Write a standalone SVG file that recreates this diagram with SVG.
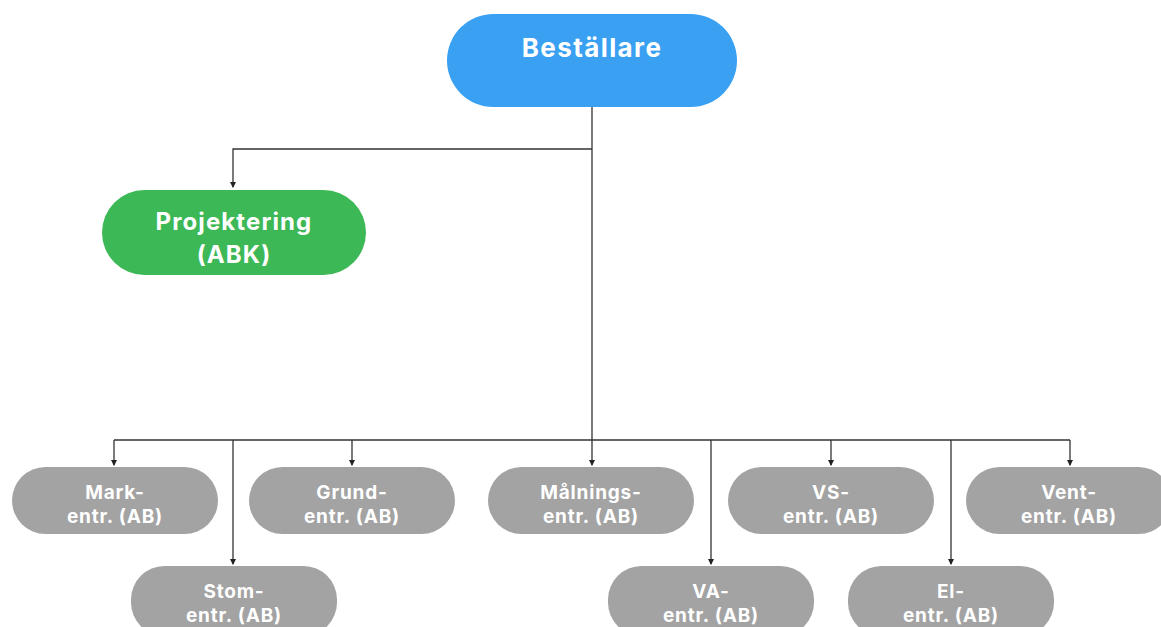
<svg xmlns="http://www.w3.org/2000/svg" width="1161" height="627" viewBox="0 0 1161 627">
  <style>
    .lbl { font-family: Inter, "Liberation Sans", sans-serif; font-weight: 700; fill: #ffffff; text-anchor: middle; }
    .sub { font-size: 19px; letter-spacing: 0.8px; }
    .gray { fill: #a3a3a3; }
    .wire { fill: none; stroke: #333333; stroke-width: 1.3; }
  </style>
  <defs>
    <marker id="tip" viewBox="0 0 6 6" refX="5" refY="3" markerWidth="5" markerHeight="5" orient="auto">
      <path d="M0,0 L6,3 L0,6 z" fill="#222222"/>
    </marker>
  </defs>
  <rect width="1161" height="627" fill="#ffffff"/>

  <g id="connectors">
    <path class="wire" d="M592,107 V440"/>
    <path class="wire" d="M592,149 H233 V187" marker-end="url(#tip)"/>
    <path class="wire" d="M114,440 H1070"/>
    <path class="wire" d="M114,440 V465" marker-end="url(#tip)"/>
    <path class="wire" d="M233,440 V564" marker-end="url(#tip)"/>
    <path class="wire" d="M352,440 V465" marker-end="url(#tip)"/>
    <path class="wire" d="M592,440 V465" marker-end="url(#tip)"/>
    <path class="wire" d="M711,440 V564" marker-end="url(#tip)"/>
    <path class="wire" d="M831,440 V465" marker-end="url(#tip)"/>
    <path class="wire" d="M951,440 V564" marker-end="url(#tip)"/>
    <path class="wire" d="M1070,440 V465" marker-end="url(#tip)"/>
  </g>

  <g id="bestallare">
    <rect x="447" y="14" width="290" height="93" rx="46.5" fill="#39a0f2"/>
    <text class="lbl" x="592" y="57" font-size="26" letter-spacing="1.4">Beställare</text>
  </g>

  <g id="projektering">
    <rect x="102" y="190" width="264" height="85" rx="42.5" fill="#3cb856"/>
    <text class="lbl" x="234" y="230" font-size="24" letter-spacing="1.1">Projektering</text>
    <text class="lbl" x="234" y="263" font-size="24" letter-spacing="1.1">(ABK)</text>
  </g>

  <g id="mark">
    <rect class="gray" x="12" y="467" width="206" height="67" rx="33.5"/>
    <text class="lbl sub" x="115" y="499">Mark-</text>
    <text class="lbl sub" x="115" y="523">entr. (AB)</text>
  </g>

  <g id="grund">
    <rect class="gray" x="249" y="467" width="206" height="67" rx="33.5"/>
    <text class="lbl sub" x="352" y="499">Grund-</text>
    <text class="lbl sub" x="352" y="523">entr. (AB)</text>
  </g>

  <g id="malnings">
    <rect class="gray" x="488" y="467" width="206" height="67" rx="33.5"/>
    <text class="lbl sub" x="591" y="499">Målnings-</text>
    <text class="lbl sub" x="591" y="523">entr. (AB)</text>
  </g>

  <g id="vs">
    <rect class="gray" x="728" y="467" width="206" height="67" rx="33.5"/>
    <text class="lbl sub" x="831" y="499">VS-</text>
    <text class="lbl sub" x="831" y="523">entr. (AB)</text>
  </g>

  <g id="vent">
    <rect class="gray" x="966" y="467" width="206" height="67" rx="33.5"/>
    <text class="lbl sub" x="1069" y="499">Vent-</text>
    <text class="lbl sub" x="1069" y="523">entr. (AB)</text>
  </g>

  <g id="stom">
    <rect class="gray" x="131" y="566" width="206" height="70" rx="33.5"/>
    <text class="lbl sub" x="234" y="598">Stom-</text>
    <text class="lbl sub" x="234" y="622">entr. (AB)</text>
  </g>

  <g id="va">
    <rect class="gray" x="608" y="566" width="206" height="70" rx="33.5"/>
    <text class="lbl sub" x="711" y="598">VA-</text>
    <text class="lbl sub" x="711" y="622">entr. (AB)</text>
  </g>

  <g id="el">
    <rect class="gray" x="848" y="566" width="206" height="70" rx="33.5"/>
    <text class="lbl sub" x="951" y="598">El-</text>
    <text class="lbl sub" x="951" y="622">entr. (AB)</text>
  </g>
</svg>
